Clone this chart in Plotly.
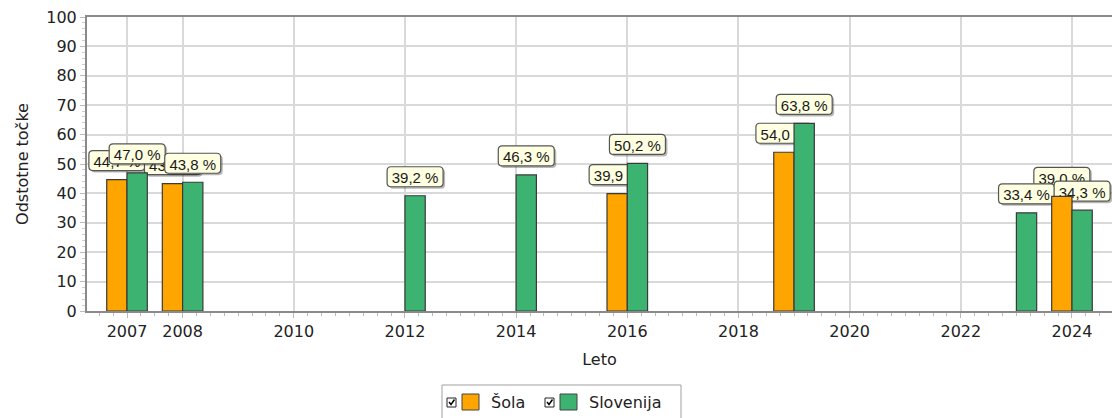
import plotly.graph_objects as go

# ---- data ----
years_sola = [2007, 2008, 2016, 2019, 2024]
vals_sola = [44.7, 43.3, 39.9, 54.0, 39.0]
years_slo = [2007, 2008, 2012, 2014, 2016, 2019, 2023, 2024]
vals_slo = [47.0, 43.8, 39.2, 46.3, 50.2, 63.8, 33.4, 34.3]
tick_years = [2007, 2008, 2010, 2012, 2014, 2016, 2018, 2020, 2022, 2024]
y_ticks = list(range(0, 101, 10))

name_sola = "Šola"
name_slo = "Slovenija"
col_sola = "#FFA500"
col_slo = "#3CB371"

# ---- layout geometry ----
W, H = 1112, 418
ML, MR, MT, MB = 87, 0, 17, 107
PW, PH = W - ML - MR, H - MT - MB
XR = [2006.28, 2024.72]
YR = [0, 100]
ppx = PW / (XR[1] - XR[0])  # px per year
ppy = PH / (YR[1] - YR[0])  # px per unit
BW = 0.365  # bar width in years

fig = go.Figure()
fig.add_trace(go.Bar(x=years_sola, y=vals_sola, name=name_sola, width=BW, offset=-BW,
                     marker=dict(color=col_sola, line=dict(color="#3a3a3a", width=1.2)),
                     showlegend=False, hoverinfo="x+y"))
fig.add_trace(go.Bar(x=years_slo, y=vals_slo, name=name_slo, width=BW, offset=0,
                     marker=dict(color=col_slo, line=dict(color="#3a3a3a", width=1.2)),
                     showlegend=False, hoverinfo="x+y"))

def fmt(v):
    return ("%.1f" % v).replace(".", ",") + " %"

def rounded_path(x0, x1, y0, y1, r):
    rx, ry = r / ppx, r / ppy
    return (f"M {x0+rx},{y0} L {x1-rx},{y0} Q {x1},{y0} {x1},{y0+ry} "
            f"L {x1},{y1-ry} Q {x1},{y1} {x1-rx},{y1} L {x0+rx},{y1} "
            f"Q {x0},{y1} {x0},{y1-ry} L {x0},{y0+ry} Q {x0},{y0} {x0+rx},{y0} Z")

shapes = []
LBL_W, LBL_H, GAP = 56, 20, 9

def add_labels(years, vals, offset):
    for yr, v in zip(years, vals):
        xc = yr + offset + BW / 2
        x0, x1 = xc - LBL_W / 2 / ppx, xc + LBL_W / 2 / ppx
        y0 = v + GAP / ppy
        y1 = y0 + LBL_H / ppy
        dx, dy = 2 / ppx, 2 / ppy
        shapes.append(dict(type="path", xref="x", yref="y", layer="between",
                           path=rounded_path(x0 + dx, x1 + dx, y0 - dy, y1 - dy, 4),
                           fillcolor="rgba(0,0,0,0.28)", line=dict(width=0)))
        shapes.append(dict(type="path", xref="x", yref="y", layer="between",
                           path=rounded_path(x0, x1, y0, y1, 4),
                           fillcolor="#FFFFE1", line=dict(color="#555555", width=1.2),
                           label=dict(text=fmt(v), textposition="middle center",
                                      font=dict(family="Liberation Sans, Arial", size=15, color="#1a1a1a"))))

add_labels(years_sola, vals_sola, -BW)
add_labels(years_slo, vals_slo, 0)

# ---- manual legend (pixel -> paper) ----
def px(x):
    return (x - ML) / PW

def py(y):
    return (H - MB - y) / PH

annotations = []
shapes.append(dict(type="rect", xref="paper", yref="paper", x0=px(442), x1=px(681), y0=py(385), y1=py(425),
                   line=dict(color="#a0a0a0", width=1), fillcolor="white", layer="above"))

def legend_item(cx, swx, tx, color, text):
    # checkbox
    shapes.append(dict(type="rect", xref="paper", yref="paper", x0=px(cx), x1=px(cx + 9), y0=py(398), y1=py(407),
                       line=dict(color="#222222", width=1), fillcolor="white", layer="above"))
    shapes.append(dict(type="path", xref="paper", yref="paper",
                       path=f"M {px(cx+2)},{py(402)} L {px(cx+4)},{py(404.5)} L {px(cx+7.5)},{py(399.5)}",
                       line=dict(color="#000000", width=1.5), layer="above"))
    # swatch
    shapes.append(dict(type="rect", xref="paper", yref="paper", x0=px(swx), x1=px(swx + 17), y0=py(394), y1=py(410),
                       line=dict(color="#444444", width=1), fillcolor=color, layer="above"))
    annotations.append(dict(xref="paper", yref="paper", x=px(tx), y=py(402), text=text, showarrow=False,
                            xanchor="left", yanchor="middle",
                            font=dict(family="DejaVu Sans", size=16, color="#222222")))

legend_item(447, 462, 489, col_sola, name_sola)
legend_item(545, 560, 587, col_slo, name_slo)

axis_font = dict(family="DejaVu Sans", size=16, color="#222222")

fig.update_layout(
    width=W, height=H,
    margin=dict(l=ML, r=MR, t=MT, b=MB, pad=0, autoexpand=False),
    plot_bgcolor="white", paper_bgcolor="white",
    barmode="overlay",
    shapes=shapes, annotations=annotations,
    showlegend=False,
    font=axis_font,
    xaxis=dict(range=XR, tickmode="array", tickvals=tick_years, ticktext=[str(t) for t in tick_years],
               showgrid=True, gridcolor="#d9d9d9", gridwidth=1.5, automargin=False,
               showline=True, linecolor="#8a8a8a", linewidth=2, mirror=True,
               ticks="outside", ticklen=5, tickcolor="#bbbbbb", tickfont=axis_font,
               minor=dict(tickmode="linear", tick0=2007, dtick=0.25, ticks="outside", ticklen=3,
                          tickcolor="#bbbbbb", showgrid=False),
               title=dict(text="Leto", font=axis_font, standoff=14),
               zeroline=False, fixedrange=True),
    yaxis=dict(range=YR, tickmode="array", tickvals=y_ticks, automargin=False,
               showgrid=True, gridcolor="#d9d9d9", gridwidth=1.5,
               showline=True, linecolor="#8a8a8a", linewidth=2,
               ticks="outside", ticklen=5, tickcolor="#bbbbbb", tickfont=axis_font,
               minor=dict(tickmode="linear", tick0=0, dtick=2, ticks="outside", ticklen=3,
                          tickcolor="#cccccc", showgrid=False),
               title=dict(text="Odstotne točke", font=axis_font, standoff=14),
               zeroline=False, fixedrange=True),
)

fig.write_html("out.html", config={"displayModeBar": False},
               post_script="document.body.style.margin='0';document.body.style.overflow='hidden';")
